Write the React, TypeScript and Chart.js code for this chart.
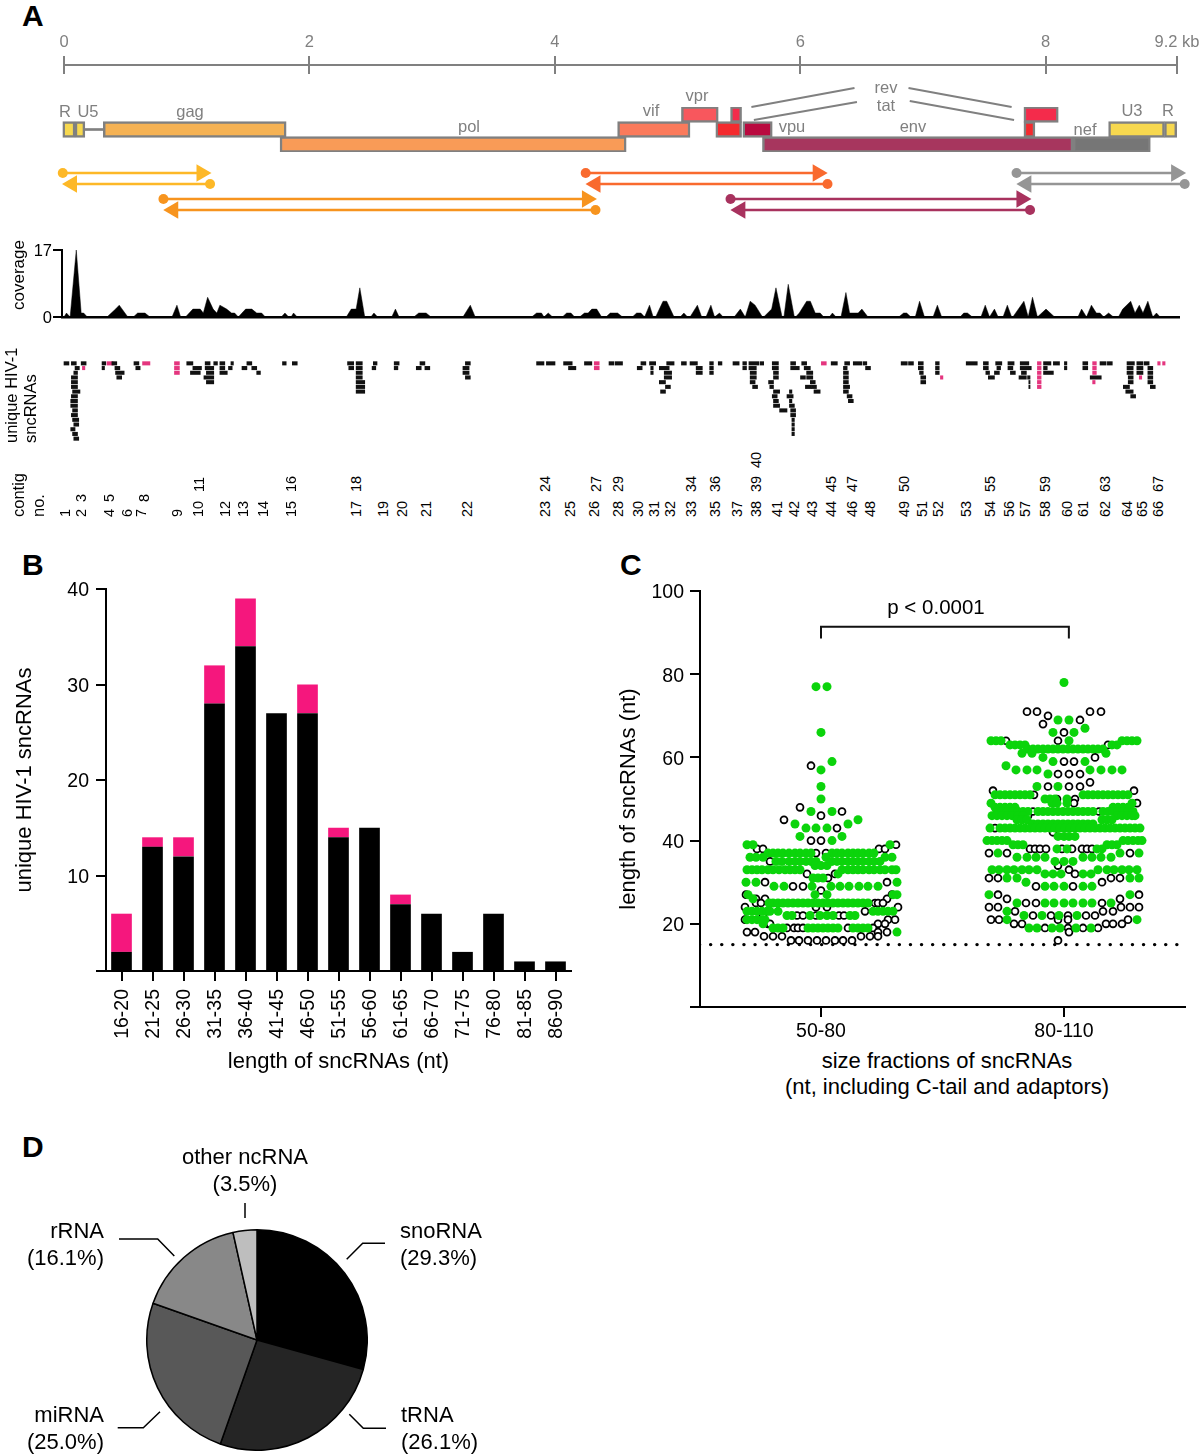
import { useEffect, useRef } from 'react';
import Chart from 'chart.js/auto';

// --- panel A: genome ruler, genes, amplicons (all x values in kb)
const rulerKb = [0, 2, 4, 6, 8, 9.07];
const rulerLabels = ['0', '2', '4', '6', '8', '9.2 kb'];

const geneRows = ['top', 'mid', 'bottom'];
const geneRow = ['mid', 'mid', 'mid', 'bottom', 'mid', 'top', 'top', 'mid', 'mid', 'bottom', 'bottom', 'mid', 'top', 'mid', 'mid'];
const geneStart = [-0.01, 0.09, 0.32, 1.76, 4.51, 5.03, 5.43, 5.31, 5.53, 5.69, 8.22, 7.82, 7.82, 8.51, 8.965];
const geneEnd = [0.09, 0.17, 1.81, 4.58, 5.1, 5.33, 5.52, 5.52, 5.77, 8.22, 8.85, 7.91, 8.1, 8.965, 9.065];
const geneColor = ['#F7D84F', '#F7D84F', '#F5B254', '#F99B57', '#FB7A5B', '#F8575D', '#F42B4B', '#F42A2E', '#B90A3F', '#A7365E', '#767676', '#F42A2E', '#F42B4B', '#F7D84F', '#F7D84F'];

const arrowStart = [-0.01, 1.19, 0.81, 4.33, 4.25, 6.22, 5.43, 7.87, 7.76, 9.13];
const arrowEnd = [1.12, 0.065, 4.26, 0.89, 6.14, 4.33, 7.8, 5.51, 9.06, 7.84];
const arrowTrack = [9.3, 10.4, 11.9, 13, 9.3, 10.4, 11.9, 13, 9.3, 10.4];
const arrowColor = ['#FDB827', '#FDB827', '#F7941E', '#F7941E', '#F96A2E', '#F96A2E', '#A8325E', '#A8325E', '#959595', '#959595'];

const leaderKb = [[5.6, 6.44], [5.62, 6.46], [6.88, 7.72], [6.89, 7.74]];
const leaderTrack = [[2.7, 0.8], [4, 2.2], [0.8, 2.7], [2.1, 4]];

const coverageKb = [
  0, 0.02, 0.05, 0.1, 0.14, 0.16, 0.19, 0.35, 0.42, 0.45, 0.52, 0.565, 0.6, 0.66, 0.7, 0.88, 0.92, 0.95,
  0.99, 1.05, 1.11, 1.135, 1.17, 1.215, 1.245, 1.27, 1.325, 1.365, 1.39, 1.42, 1.48, 1.53, 1.57, 1.61, 1.64,
  1.77, 1.8, 1.83, 1.85, 1.87, 1.9, 2.3, 2.34, 2.38, 2.41, 2.45, 2.5, 2.525, 2.555, 2.67, 2.7, 2.73,
  2.85, 2.89, 2.95, 2.99, 3.25, 3.31, 3.35, 3.81, 3.85, 3.89, 3.91, 3.945, 3.98, 4.06, 4.095, 4.13, 4.16,
  4.2, 4.24, 4.27, 4.3, 4.34, 4.38, 4.415, 4.45, 4.51, 4.55, 4.63, 4.665, 4.7, 4.73, 4.77, 4.8, 4.82, 4.88, 4.91, 4.97,
  5.02, 5.05, 5.08, 5.1, 5.16, 5.195, 5.23, 5.27, 5.3, 5.34, 5.37, 5.46, 5.51, 5.55, 5.59, 5.63, 5.69, 5.7, 5.765, 5.8, 5.85,
  5.865, 5.9, 5.95, 5.96, 5.99, 6.05, 6.08, 6.12, 6.16, 6.19, 6.235, 6.26, 6.29, 6.33, 6.37, 6.4, 6.47, 6.5, 6.55,
  6.8, 6.84, 6.865, 6.9, 6.935, 6.97, 7.01, 7.08, 7.115, 7.15, 7.3, 7.33, 7.36, 7.4, 7.47, 7.505, 7.54, 7.58, 7.61,
  7.65, 7.685, 7.72, 7.73, 7.82, 7.855, 7.89, 7.93, 8.0, 8.07, 8.26, 8.29, 8.33, 8.37, 8.41, 8.44, 8.47, 8.51, 8.55,
  8.59, 8.625, 8.69, 8.725, 8.76, 8.79, 8.83, 8.87, 8.9, 8.93, 9.08,
];
const coverageCount = [
  0, 1, 0, 17, 1, 1, 0, 0, 2, 3, 0, 0, 1, 1, 0, 0, 3, 0,
  0, 2, 2, 1, 5, 2, 1, 3, 2, 1, 1, 0, 2, 2, 1, 1, 0,
  0, 1, 0, 0, 1, 0, 0, 2, 2, 7.4, 0, 0, 1, 0, 0, 2, 0,
  0, 1, 1, 0, 0, 3, 0, 0, 1, 1, 0, 1, 0, 0, 1, 1, 0,
  0, 1, 1, 2, 2, 0, 0, 1, 1, 0, 0, 1, 1, 0, 3, 0, 0, 4, 4, 0,
  0, 1, 0, 0, 3, 0, 0, 3, 0, 1, 0, 0, 2, 0, 4, 3, 0, 0, 2, 7.4, 0,
  0, 8.3, 0, 0, 1, 4, 4, 1, 1, 0, 0, 1, 0, 0, 6.2, 1, 1, 2, 0,
  0, 1, 1, 0, 0, 4, 0, 0, 3, 0, 0, 1, 1, 0, 0, 3, 0, 2, 0,
  0, 3, 0, 0, 4, 0, 5, 0, 2, 0, 0, 2, 0, 3, 1, 1, 0, 1, 0,
  0, 2, 4, 1, 3, 1, 4, 0, 1, 0, 0,
];

// each row: start,end pairs in kb, row 0 is the top one
const sncBlack = [
  [0, 0.04, 0.06, 0.1, 0.14, 0.18, 0.31, 0.34, 0.39, 0.43, 0.57, 0.61, 1.0, 1.05, 1.15, 1.19, 1.22, 1.25, 1.27, 1.31, 1.36, 1.38, 1.49, 1.53, 1.78, 1.81, 1.86, 1.9, 2.31, 2.36, 2.38, 2.43, 2.52, 2.55, 2.69, 2.73, 2.9, 2.94, 3.27, 3.31, 3.85, 3.91, 3.93, 4.0, 4.07, 4.14, 4.24, 4.3, 4.44, 4.48, 4.49, 4.55, 4.7, 4.74, 4.77, 4.82, 4.91, 4.97, 5.03, 5.07, 5.1, 5.16, 5.26, 5.29, 5.33, 5.36, 5.45, 5.5, 5.53, 5.56, 5.58, 5.66, 5.67, 5.7, 5.77, 5.82, 5.92, 5.96, 6.01, 6.05, 6.25, 6.3, 6.36, 6.4, 6.43, 6.5, 6.51, 6.54, 6.82, 6.87, 6.88, 6.92, 6.96, 7.0, 7.1, 7.13, 7.35, 7.44, 7.49, 7.53, 7.59, 7.64, 7.69, 7.74, 7.79, 7.86, 7.98, 8.04, 8.06, 8.11, 8.15, 8.17, 8.3, 8.34, 8.44, 8.49, 8.5, 8.54, 8.66, 8.72, 8.74, 8.79, 8.8, 8.84],
  [0.09, 0.125, 0.31, 0.33, 0.415, 0.455, 0.585, 0.62, 1.05, 1.12, 1.15, 1.22, 1.27, 1.31, 1.34, 1.37, 1.45, 1.49, 1.53, 1.57, 2.32, 2.36, 2.38, 2.43, 2.51, 2.54, 2.69, 2.72, 2.87, 2.91, 2.94, 2.98, 3.25, 3.3, 4.11, 4.17, 4.67, 4.71, 4.78, 4.8, 4.85, 4.93, 5.15, 5.2, 5.26, 5.29, 5.53, 5.56, 5.58, 5.64, 5.77, 5.82, 5.92, 5.99, 6.03, 6.08, 6.35, 6.38, 6.53, 6.57, 6.96, 7.0, 7.1, 7.13, 7.49, 7.53, 7.6, 7.63, 7.69, 7.73, 7.79, 7.86, 7.86, 7.88, 7.98, 8.01, 8.15, 8.17, 8.3, 8.34, 8.66, 8.71, 8.74, 8.79, 8.83, 8.87],
  [0.08, 0.11, 0.42, 0.49, 1.03, 1.11, 1.16, 1.22, 1.27, 1.33, 1.57, 1.6, 2.38, 2.43, 3.25, 3.3, 4.78, 4.8, 4.89, 4.95, 5.15, 5.2, 5.26, 5.29, 5.59, 5.64, 5.78, 5.82, 6.05, 6.1, 6.35, 6.39, 6.97, 7.0, 7.1, 7.13, 7.51, 7.54, 7.58, 7.62, 7.71, 7.75, 7.8, 7.84, 7.98, 8.06, 8.66, 8.71, 8.74, 8.79, 8.83, 8.87],
  [0.06, 0.11, 0.43, 0.47, 1.14, 1.22, 2.38, 2.43, 3.27, 3.31, 4.89, 4.95, 5.59, 5.64, 5.78, 5.82, 6.0, 6.04, 6.05, 6.1, 6.35, 6.39, 6.98, 7.02, 7.53, 7.58, 7.78, 7.84, 7.85, 7.87, 8.36, 8.45, 8.67, 8.71, 8.83, 8.87],
  [0.06, 0.11, 1.16, 1.22, 2.38, 2.45, 4.85, 4.9, 5.59, 5.63, 5.74, 5.78, 6.08, 6.12, 6.35, 6.39, 6.98, 7.02, 7.86, 7.87, 8.67, 8.71, 8.83, 8.87],
  [0.06, 0.11, 2.38, 2.45, 4.9, 4.94, 5.61, 5.65, 5.75, 5.78, 6.04, 6.09, 6.09, 6.13, 6.35, 6.4, 7.86, 7.87, 8.63, 8.68, 8.85, 8.89],
  [0.07, 0.13, 2.38, 2.45, 4.86, 4.9, 5.78, 5.83, 5.91, 5.93, 6.11, 6.16, 6.35, 6.39, 8.65, 8.71],
  [0.06, 0.11, 5.77, 5.81, 5.89, 5.94, 6.38, 6.42, 8.69, 8.73],
  [0.055, 0.11, 5.78, 5.82, 5.91, 5.93, 6.39, 6.43],
  [0.055, 0.11, 5.78, 5.83, 5.91, 5.95],
  [0.07, 0.11, 5.83, 5.89, 5.92, 5.96],
  [0.06, 0.11, 5.92, 5.96],
  [0.07, 0.12, 5.93, 5.95],
  [0.08, 0.12, 5.93, 5.95],
  [0.055, 0.09, 5.93, 5.95],
  [0.07, 0.11, 5.93, 5.95],
  [0.08, 0.12],
];
const sncPink = [
  [0.35, 0.4, 0.64, 0.7, 0.9, 0.94, 4.32, 4.36, 6.17, 6.21, 7.93, 7.96, 8.38, 8.41, 8.91, 8.93, 8.95, 8.97],
  [0.15, 0.17, 0.9, 0.94, 4.32, 4.36, 7.93, 7.96, 8.38, 8.41],
  [0.9, 0.94, 7.93, 7.96, 8.38, 8.41],
  [7.14, 7.16, 7.93, 7.96, 8.76, 8.78],
  [7.93, 7.96, 8.38, 8.4],
  [7.93, 7.96],
];

// contig n sits at contigKb[n - 1]
const contigKb = [
  0.01, 0.14, 0.14, 0.37, 0.37, 0.51, 0.63, 0.65, 0.92, 1.09, 1.1, 1.31, 1.46, 1.62, 1.85, 1.85, 2.38, 2.38, 2.6, 2.75,
  2.95, 3.28, 3.92, 3.92, 4.12, 4.32, 4.33, 4.51, 4.51, 4.68, 4.81, 4.94, 5.11, 5.11, 5.3, 5.3, 5.48, 5.64, 5.64, 5.64,
  5.81, 5.95, 6.09, 6.25, 6.25, 6.42, 6.42, 6.57, 6.84, 6.84, 6.99, 7.12, 7.35, 7.54, 7.54, 7.7, 7.83, 7.99, 7.99, 8.17,
  8.3, 8.48, 8.48, 8.66, 8.78, 8.91, 8.91,
];
const contigsRaised = [3, 5, 8, 11, 16, 18, 24, 27, 29, 34, 36, 39, 45, 47, 50, 55, 59, 63, 67];

// --- panel B
const lengthBins = ['16-20', '21-25', '26-30', '31-35', '36-40', '41-45', '46-50', '51-55', '56-60', '61-65', '66-70', '71-75', '76-80', '81-85', '86-90'];
const binBlack = [2, 13, 12, 28, 34, 27, 27, 14, 15, 7, 6, 2, 6, 1, 1];
const binPink = [4, 1, 2, 4, 5, 0, 3, 1, 0, 1, 0, 0, 0, 0, 0];

// --- panel C: [length, swarm offsets of the points at that length]
type SwarmRow = [number, number[]];
const fractions = ['50-80', '80-110'];
const swarm5080Green: SwarmRow[] = [
  [77, [-5, 6]], [66, [0]], [59, [11]], [57, [0]], [53, [0]], [50, [0]], [47, [-10, 11]], [45, [37]], [44, [-26, 27]],
  [43, [-15, -5, 6]], [41, [-21, 21]], [40, [11]], [39, [-74, -68, 69]],
  [37, [-53, -48, -43, -38, -32, -26, -21, -15, -10, 11, 16, 21, 27, 32, 37, 42, 48, 53]],
  [36, [-71, -65, -58, 5, 64, 71]],
  [35, [-45, -39, -32, -26, -21, -15, -10, -5, 11, 16, 21, 27, 32, 37, 42, 48, 53, 59]],
  [34, [-6, 0, 6]],
  [33, [-74, -69, -64, -59, -53, -48, -42, -36, -31, -26, -21, 21, 27, 32, 37, 42, 48, 53, 59, 64, 71, 75]],
  [32, [17]], [31, [-8, -3, 2]], [30, [-75, -65, 76]], [29, [-47, -37, -9, 10, 19, 28, 38, 47, 57]],
  [27, [-73, -6, 6, 72, 76]], [26, [-68]],
  [25, [-52, -48, -43, -38, -33, -28, -23, -18, -13, -8, -3, 2, 7, 12, 17, 22, 27, 32, 37, 42, 47]],
  [23, [-74, -69, -64, -59, -54, -51, -43, 52, 57, 62, 67, 72]],
  [22, [-34, -29, -11, -1, 6, 12, 29, 34]], [21, [-74, -69, -64, -59, -56]], [20, [-58]],
  [19, [-48, -43, -38, -13, -8, -3, 2, 7, 12, 17, 32, 37, 42, 47]], [18, [76]],
];
const swarm5080Open: SwarmRow[] = [
  [58, [-10]], [48, [-21]], [47, [21]], [46, [0]], [45, [-37]], [43, [16]], [40, [-10, 0]], [39, [75]],
  [38, [-64, -58, 58, 64]], [37, [-5, 5]], [35, [-51]], [32, [-14, 14]], [31, [7]], [30, [-56, 66]], [29, [-28, -18]],
  [28, [0]], [27, [-75, 71]], [26, [-65, -56, 66]], [25, [-65, -60, 54, 57, 62]], [24, [-76, -5, 6, 77]], [23, [44]],
  [22, [-58, -24, -18, -5, 18, 23]], [21, [-76, 67, 74]], [20, [-53, -51, 57, 64]], [19, [-34, -27, -23, -18, 27, 52]],
  [18, [-74, -66, 57, 66]], [17, [-57, -48, -39, 40, 49, 57]], [16, [-30, -22, -13, -4, 5, 14, 22, 31]],
];
const swarm80110Green: SwarmRow[] = [
  [78, [0]], [69, [-6, 5]], [67, [21]], [66, [-11, 10]], [64, [-73, -68, -63, 5, 58, 63, 68, 73]],
  [63, [-54, -49, -44, -39, 48, 53]],
  [62, [-36, -31, -26, -21, -16, -11, -6, -1, 4, 9, 14, 19, 24, 29, 34, 39]],
  [61, [-42, -32, 42]], [60, [-21]], [59, [-11, 21]], [58, [-58]], [57, [-48, -37, -27, 26, 37, 48, 58]], [56, [-16]],
  [53, [-27, -6]], [51, [-69, -64, -59, -54, -49, -44, -39, -34, 19, 24, 29, 34, 39, 44, 49, 54, 59, 64]],
  [50, [-19, -14, -9, 3]], [49, [-73, -12, -7, 3, 68]], [48, [-69, -64, -59, -54, -49, 49, 54, 59, 64]],
  [47, [-67, -62, -57, -51, -46, -41, -36, -26, -21, -16, -11, -6, -1, 4, 9, 14, 19, 24, 29, 39, 44, 49, 54, 59, 64, 69]],
  [46, [-72, -67, -62, -57, -52, -46, -41, 53, 58, 63, 68, 71]], [45, [-47, -42, -37, 38, 43, 48]],
  [44, [-31, -26, -21, -16, -11, -6, -1, 4, 9, 14, 19, 24, 29]],
  [43, [-74, -64, -59, -54, -49, -44, -39, -34, -29, -24, -19, -14, -9, -4, 1, 6, 11, 16, 21, 26, 31, 36, 41, 46, 51, 56, 61, 66, 71, 76]],
  [41, [-6, 0, 5, 11]], [40, [-77, -72, -67, -62, -57, 59, 64, 69, 74, 78]], [39, [-51, -46, -41, 43, 48, 53]],
  [38, [-7, 3, 33, 38]], [37, [-66, 56, 75]], [36, [-47, -37, -28, -19, 19, 28, 37, 47]], [35, [-9, 0, 9]],
  [33, [-72, -65, -57, -50, -42, -35, -27, 34, 43, 50, 58, 65, 73]], [32, [-19, -11, -3, 19, 27]],
  [31, [-57, -47, 66, 75]], [30, [-38]], [29, [-19, -10, 0, 19, 28]], [27, [-75, 66]],
  [25, [-47, -19, -10, 0, 9, 19, 28, 47]], [23, [-57]], [22, [-40, -22, -5, 13]], [21, [-57, 73]],
  [19, [-35, -27, -12, -4, 12, 27]],
];
const swarm80110Open: SwarmRow[] = [
  [71, [-37, -27, 26, 37]], [70, [-16]], [69, [16]], [68, [-21]], [66, [0]], [64, [-58, -6]], [63, [44]], [60, [31]],
  [59, [0, 10]], [56, [-6, 5, 16]], [54, [26]], [53, [-16, 5, 16]], [52, [-71, 70]], [51, [-30]], [50, [-7, 11]],
  [49, [10, 73]], [47, [-31, 35]], [46, [-36]], [43, [-69]], [42, [-11]], [38, [-34, -29, -24, -18, -2, 8, 18, 23, 28]],
  [37, [-75, -57, 66]], [34, [-6]], [33, [5]], [32, [11]], [31, [-75, -66, 47, 56]], [30, [38]], [29, [-28, 9]],
  [27, [-66, 75]], [26, [-57, 56]], [25, [-38, -28, 38]], [24, [-75, -66, 57, 66, 75]], [23, [-49, 39, 49]],
  [22, [-31, -13, 4, 22, 31]], [21, [-73, -65, -6, 4, 64]], [20, [-50, -42, 42, 49, 58]], [19, [-19, 4, 19, 34]],
  [18, [5]], [16, [-6]],
];
const pThresholdX = [0.5, 2.47];
const pThresholdY = [15, 15];
const bracketX = [1, 1, 2.02, 2.02];
const bracketY = [88.6, 91.4, 91.4, 88.6];

// --- panel D
const rnaClasses = ['snoRNA', 'tRNA', 'miRNA', 'rRNA', 'other ncRNA'];
const rnaShares = [29.3, 26.1, 25.0, 16.1, 3.5];
const rnaGreys = ['#000000', '#252525', '#585858', '#888888', '#BEBEBE'];

// layout
const FONT = '"Liberation Sans", Arial, Helvetica, sans-serif';
const GREY = '#808080';
const KB_PX = 122.75;
const KB_ORIGIN = 64;
const kbToPx = (kb: number) => KB_ORIGIN + kb * KB_PX;
const KB_MIN = -KB_ORIGIN / KB_PX;
const KB_MAX = (1200 - KB_ORIGIN) / KB_PX;
const SWARM_UNIT = 1 / 243;

Chart.defaults.font.family = FONT;
Chart.defaults.color = '#000';
Chart.defaults.layout.autoPadding = false;

const quiet = { legend: { display: false }, tooltip: { enabled: false } };
const hiddenKb = { type: 'linear', display: false, min: KB_MIN, max: KB_MAX };
const pinH = (h: number) => (s: any) => { s.height = h; };
const pinW = (w: number) => (s: any) => { s.width = w; };

const pairsToBars = (rows: number[][]) =>
  rows.flatMap((pairs, row) => {
    const out: any[] = [];
    for (let i = 0; i < pairs.length; i += 2) out.push({ x: [pairs[i], pairs[i + 1]], y: String(row) });
    return out;
  });

const swarmPoints = (rows: SwarmRow[], center: number) =>
  rows.flatMap(([len, offs]) => offs.map((o) => ({ x: center + o * SWARM_UNIT, y: len })));

function rulerConfig() {
  return {
    type: 'scatter',
    data: { datasets: [] },
    options: {
      animation: false, responsive: false, plugins: quiet,
      layout: { padding: { left: KB_ORIGIN, right: 33 } },
      scales: {
        x: {
          type: 'linear', position: 'top', min: 0, max: rulerKb[5],
          afterBuildTicks: (s: any) => { s.ticks = rulerKb.map((value) => ({ value })); },
          afterFit: pinH(40),
          ticks: { callback: (_v: any, i: number) => rulerLabels[i], padding: 4, color: GREY, font: { size: 16.5 }, maxRotation: 0, autoSkip: false },
          grid: { color: GREY, lineWidth: 2, tickLength: 9 },
          border: { color: GREY, width: 2 },
        },
        y: { display: false, min: 0, max: 1 },
      },
    },
  };
}

function genesConfig() {
  return {
    type: 'bar',
    data: {
      labels: geneRows,
      datasets: [
        {
          data: geneStart.map((s, i) => ({ x: [s, geneEnd[i]], y: geneRow[i] })),
          backgroundColor: geneColor, borderColor: GREY, borderWidth: 2.5, borderSkipped: false, barThickness: 16,
        },
        { data: [{ x: [0.17, 0.32], y: 'mid' }], backgroundColor: GREY, barThickness: 2 },
      ],
    },
    options: {
      indexAxis: 'y', grouped: false, animation: false, responsive: false, plugins: quiet,
      layout: { padding: { top: 7, bottom: 8 } },
      scales: { x: hiddenKb, y: { type: 'category', display: false, offset: true, labels: geneRows } },
    },
  };
}

function mapConfig() {
  return {
    type: 'scatter',
    data: {
      datasets: [
        ...arrowStart.map((s, i) => ({
          data: [{ x: s, y: arrowTrack[i] }, { x: arrowEnd[i], y: arrowTrack[i] }],
          showLine: true, borderColor: arrowColor[i], borderWidth: 2.5,
          pointStyle: ['circle', 'triangle'], pointRadius: [5, 10],
          pointRotation: [0, arrowEnd[i] > s ? 90 : -90],
          pointBackgroundColor: arrowColor[i], pointBorderWidth: 0,
        })),
        ...leaderKb.map((xs, i) => ({
          data: xs.map((x, j) => ({ x, y: leaderTrack[i][j] })),
          showLine: true, borderColor: GREY, borderWidth: 2, pointRadius: 0,
        })),
      ],
    },
    options: {
      animation: false, responsive: false, plugins: quiet,
      scales: { x: hiddenKb, y: { type: 'linear', display: false, reverse: true, min: 0, max: 14 } },
    },
  };
}

function coverageConfig() {
  return {
    type: 'line',
    data: {
      datasets: [{
        data: coverageKb.map((x, i) => ({ x, y: coverageCount[i] })),
        fill: 'origin', backgroundColor: '#000', borderColor: '#000', borderWidth: 0.5, pointRadius: 0, tension: 0,
      }],
    },
    options: {
      animation: false, responsive: false, plugins: quiet,
      layout: { padding: { top: 15, right: 21 } },
      scales: {
        x: {
          type: 'linear', min: -2 / KB_PX, max: 1115 / KB_PX, afterFit: pinH(13),
          ticks: { display: false }, grid: { display: false }, border: { color: '#000', width: 2.5 },
        },
        y: {
          min: 0, max: 17, afterFit: pinW(62),
          afterBuildTicks: (s: any) => { s.ticks = [{ value: 0 }, { value: 17 }]; },
          ticks: { font: { size: 16.5 }, padding: 1, labelOffset: 1 },
          grid: { drawOnChartArea: false, tickLength: 9, color: '#000', lineWidth: 2 },
          border: { color: '#000', width: 2 },
        },
      },
    },
  };
}

function sncConfig() {
  const rows = sncBlack.map((_, i) => String(i));
  return {
    type: 'bar',
    data: {
      labels: rows,
      datasets: [
        { data: pairsToBars(sncBlack), backgroundColor: '#111', barThickness: 3.4 },
        { data: pairsToBars(sncPink), backgroundColor: '#E4357E', barThickness: 3.4 },
      ],
    },
    options: {
      indexAxis: 'y', grouped: false, animation: false, responsive: false, plugins: quiet,
      scales: { x: hiddenKb, y: { type: 'category', display: false, offset: true, labels: rows } },
    },
  };
}

function lengthBarsConfig() {
  return {
    type: 'bar',
    data: {
      labels: lengthBins,
      datasets: [
        { data: binBlack, backgroundColor: '#000', barPercentage: 0.667, categoryPercentage: 1, stack: 's' },
        { data: binPink, backgroundColor: '#F5177D', barPercentage: 0.667, categoryPercentage: 1, stack: 's' },
      ],
    },
    options: {
      animation: false, responsive: false, plugins: quiet,
      layout: { padding: { top: 19, right: 19 } },
      scales: {
        x: {
          stacked: true, afterFit: pinH(104),
          ticks: { font: { size: 19.5 }, minRotation: 90, maxRotation: 90, padding: 8, labelOffset: 1, autoSkip: false },
          grid: { drawOnChartArea: false, tickLength: 10, color: '#000', lineWidth: 2, offset: false },
          border: { color: '#000', width: 2 },
          title: { display: true, text: 'length of sncRNAs (nt)', font: { size: 22 }, padding: 0 },
        },
        y: {
          stacked: true, min: 0, max: 40, afterFit: pinW(106),
          ticks: { stepSize: 10, font: { size: 19.5 }, padding: 7, labelOffset: 2, callback: (v: number) => (v === 0 ? '' : v) },
          grid: { drawOnChartArea: false, tickLength: 10, color: '#000', lineWidth: 2 },
          border: { color: '#000', width: 2 },
          title: { display: true, text: 'unique HIV-1 sncRNAs', font: { size: 22 }, padding: { top: 12, bottom: 0 } },
        },
      },
    },
  };
}

function swarmConfig() {
  const green = { backgroundColor: '#0BD40B', borderWidth: 0, pointRadius: 4.5 };
  const open = { backgroundColor: '#fff', borderColor: '#000', borderWidth: 1.8, pointRadius: 3.45 };
  return {
    type: 'scatter',
    data: {
      datasets: [
        { data: swarmPoints(swarm5080Green, 1), ...green },
        { data: swarmPoints(swarm80110Green, 2), ...green },
        { data: swarmPoints(swarm5080Open, 1), ...open },
        { data: swarmPoints(swarm80110Open, 2), ...open },
        {
          data: pThresholdX.map((x, i) => ({ x, y: pThresholdY[i] })),
          showLine: true, pointRadius: 0, borderColor: '#000', borderWidth: 3.4, borderDash: [0.1, 11], borderCapStyle: 'round',
        },
        {
          data: bracketX.map((x, i) => ({ x, y: bracketY[i] })),
          showLine: true, pointRadius: 0, borderColor: '#111', borderWidth: 2,
        },
      ],
    },
    options: {
      animation: false, responsive: false, plugins: quiet,
      layout: { padding: { top: 21, right: 15 } },
      scales: {
        x: {
          type: 'linear', min: 1 - 121 / 243, max: 1 + 364 / 243, afterFit: pinH(38),
          afterBuildTicks: (s: any) => { s.ticks = [{ value: 1 }, { value: 2 }]; },
          ticks: { font: { size: 19.5 }, padding: 3, maxRotation: 0, callback: (_v: any, i: number) => fractions[i] },
          grid: { drawOnChartArea: false, tickLength: 10, color: '#000', lineWidth: 2 },
          border: { color: '#000', width: 2 },
        },
        y: {
          min: 0, max: 100, afterFit: pinW(100),
          ticks: { stepSize: 20, font: { size: 19.5 }, padding: 6, labelOffset: 2, callback: (v: number) => (v === 0 ? '' : v) },
          grid: { drawOnChartArea: false, tickLength: 10, color: '#000', lineWidth: 2 },
          border: { color: '#000', width: 2 },
          title: { display: true, text: 'length of sncRNAs (nt)', font: { size: 22 }, padding: { top: 16, bottom: 0 } },
        },
      },
    },
  };
}

function pieConfig() {
  return {
    type: 'pie',
    data: {
      labels: rnaClasses,
      datasets: [{ data: rnaShares, backgroundColor: rnaGreys, borderColor: '#000', borderWidth: 1.5 }],
    },
    options: { animation: false, responsive: false, plugins: quiet },
  };
}

function ChartBox({ left, top, width, height, config }: { left: number; top: number; width: number; height: number; config: () => any }) {
  const canvasRef = useRef<HTMLCanvasElement>(null);
  useEffect(() => {
    if (!canvasRef.current) return;
    const chart = new Chart(canvasRef.current, config());
    return () => chart.destroy();
  }, []);
  return <canvas ref={canvasRef} width={width} height={height} style={{ position: 'absolute', left, top, width, height }} />;
}

type LabelProps = { x: number; y: number; text: string; size?: number; color?: string; align?: 'left' | 'center' | 'right'; up?: boolean; bold?: boolean };

// y is the vertical middle of the text; with up=true the text runs upwards from (x, y) centred on x
function Label({ x, y, text, size = 22, color = '#000', align = 'center', up = false, bold = false }: LabelProps) {
  const shift = align === 'left' ? '0' : align === 'right' ? '-100%' : '-50%';
  return (
    <div
      style={{
        position: 'absolute', left: x, top: y, fontFamily: FONT, fontSize: size, color, lineHeight: 1,
        fontWeight: bold ? 700 : 400, whiteSpace: 'nowrap', transformOrigin: '0 0',
        transform: up ? 'rotate(-90deg) translateY(-50%)' : `translate(${shift}, -50%)`,
      }}
    >
      {text}
    </div>
  );
}

const geneLabels: [string, number, number][] = [
  ['R', 65, 111], ['U5', 88, 111], ['gag', 190, 111], ['pol', 469, 126], ['vif', 651, 110], ['vpr', 697, 95],
  ['vpu', 792, 126], ['env', 913, 126], ['rev', 886, 87], ['tat', 886, 105], ['nef', 1085, 129], ['U3', 1132, 110], ['R', 1168, 110],
];
const callouts = ['119,1239 157.7,1239 174.3,1256', '385,1243.3 362.7,1243.3 346.7,1259.3', '117.7,1427.7 143.3,1427.7 160,1411.7', '386,1428.3 363.3,1428.3 349.3,1414.3', '245,1203 245,1218'];

export default function App() {
  return (
    <div style={{ position: 'absolute', left: 0, top: 0, width: 1200, height: 1454, overflow: 'hidden', background: '#fff' }}>
      <Label x={22} y={16} text="A" size={30} bold align="left" />
      <Label x={22} y={565} text="B" size={30} bold align="left" />
      <Label x={620} y={565} text="C" size={30} bold align="left" />
      <Label x={22} y={1147} text="D" size={30} bold align="left" />

      <ChartBox left={0} top={25} width={1210} height={49} config={rulerConfig} />
      <ChartBox left={0} top={100} width={1200} height={60} config={genesConfig} />
      <ChartBox left={0} top={80} width={1200} height={140} config={mapConfig} />
      {geneLabels.map(([t, x, y], i) => <Label key={i} x={x} y={y} text={t} size={16.5} color={GREY} />)}

      <ChartBox left={0} top={235} width={1200} height={95} config={coverageConfig} />
      <ChartBox left={0} top={361} width={1200} height={80} config={sncConfig} />
      <Label x={18} y={310} text="coverage" size={17} up />
      <Label x={11} y={443} text="unique HIV-1" size={16.5} up />
      <Label x={30} y={443} text="sncRNAs" size={16.5} up />
      <Label x={18} y={517} text="contig" size={16.5} up />
      <Label x={38} y={517} text="no." size={16.5} up />
      {contigKb.map((kb, i) => {
        const n = i + 1;
        const raised = contigsRaised.includes(n);
        const bottom = n === 40 ? 468 : raised ? (n < 10 ? 502 : 492) : 517;
        return <Label key={n} x={kbToPx(kb)} y={bottom} text={String(n)} size={14.5} up />;
      })}

      <ChartBox left={0} top={570} width={590} height={505} config={lengthBarsConfig} />

      <ChartBox left={600} top={570} width={600} height={475} config={swarmConfig} />
      <Label x={936} y={607} text="p < 0.0001" size={20.5} />
      <Label x={947} y={1061} text="size fractions of sncRNAs" />
      <Label x={947} y={1087} text="(nt, including C-tail and adaptors)" />

      <ChartBox left={146} top={1229} width={222} height={222} config={pieConfig} />
      <svg width={1200} height={1454} style={{ position: 'absolute', left: 0, top: 0, pointerEvents: 'none' }}>
        {callouts.map((p) => <polyline key={p} points={p} fill="none" stroke="#000" strokeWidth={1.5} />)}
      </svg>
      <Label x={245} y={1157} text="other ncRNA" />
      <Label x={245} y={1184} text="(3.5%)" />
      <Label x={104} y={1231} text="rRNA" align="right" />
      <Label x={104} y={1258} text="(16.1%)" align="right" />
      <Label x={400} y={1231} text="snoRNA" align="left" />
      <Label x={400} y={1258} text="(29.3%)" align="left" />
      <Label x={104} y={1415} text="miRNA" align="right" />
      <Label x={104} y={1442} text="(25.0%)" align="right" />
      <Label x={401} y={1415} text="tRNA" align="left" />
      <Label x={401} y={1442} text="(26.1%)" align="left" />
    </div>
  );
}
